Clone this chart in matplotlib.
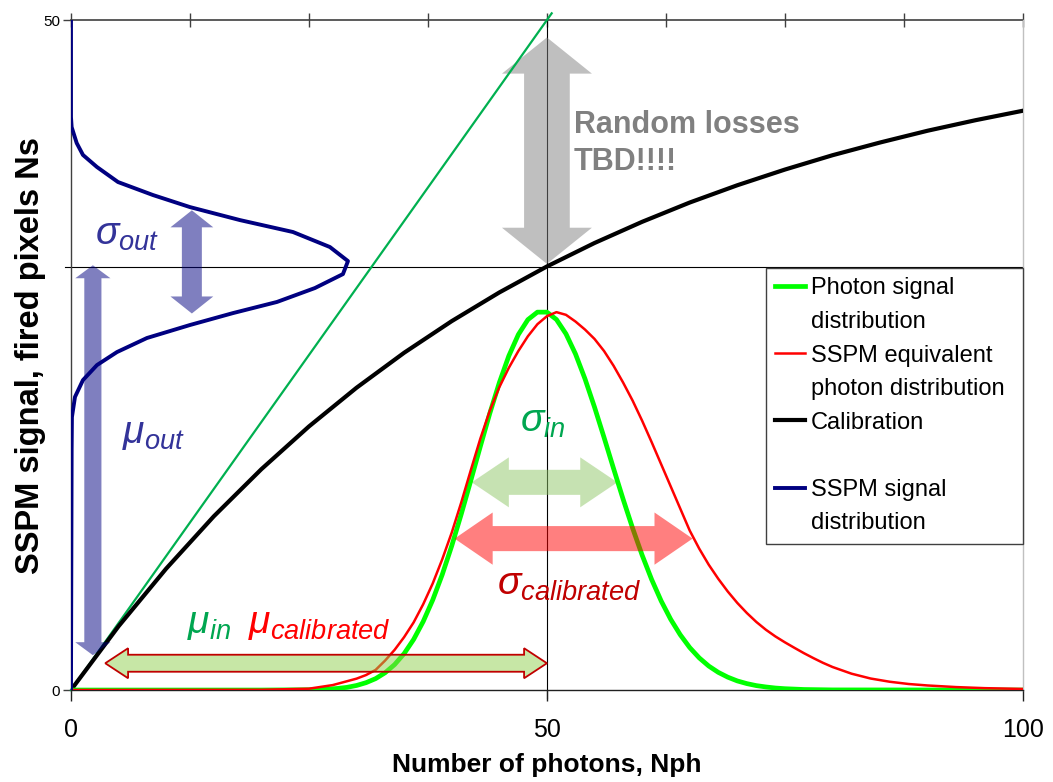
import matplotlib

matplotlib.use("Agg")
import matplotlib.pyplot as plt
import numpy as np
from matplotlib.lines import Line2D
from matplotlib.patches import Polygon

plt.rcParams["font.family"] = ["Liberation Sans", "DejaVu Sans"]
plt.rcParams["mathtext.fontset"] = "custom"
plt.rcParams["mathtext.it"] = "Liberation Sans:italic"
plt.rcParams["mathtext.rm"] = "Liberation Sans"
plt.rcParams["mathtext.bf"] = "Liberation Sans:bold"

# calibration curve Ns(Nph)
calib_nph = [0, 5, 10, 15, 20, 25, 30, 35, 40, 45, 50,
             55, 60, 65, 70, 75, 80, 85, 90, 95, 100]
calib_ns = [0, 4.76, 9.06, 12.96, 16.48, 19.67, 22.56, 25.17, 27.53, 29.67, 31.61,
            33.36, 34.94, 36.38, 37.67, 38.84, 39.91, 40.86, 41.74, 42.52, 43.23]

# ideal (no saturation) response
linear_nph = [0, 50.5]
linear_ns = [0, 50.5]

# photon signal distribution
photon_x = [0, 20, 25, 26, 27, 28, 29, 30, 31, 32, 33, 34, 35, 36, 37, 38, 39,
            40, 41, 42, 43, 44, 45, 46, 47, 48, 49, 50, 51, 52, 53, 54, 55, 56,
            57, 58, 59, 60, 61, 62, 63, 64, 65, 66, 67, 68, 69, 70, 71, 72, 73,
            74, 75, 76, 77, 78, 80, 100]
photon_y = [0, 0.0, 0.02, 0.04, 0.07, 0.12, 0.20, 0.34, 0.55, 0.85, 1.29, 1.90,
            2.72, 3.78, 5.11, 6.72, 8.61, 10.76, 13.13, 15.63, 18.17, 20.65,
            22.94, 24.94, 26.53, 27.64, 28.20, 28.20, 27.65, 26.58, 25.08, 23.22,
            21.11, 18.85, 16.53, 14.25, 12.08, 10.07, 8.25, 6.65, 5.28, 4.13,
            3.17, 2.40, 1.79, 1.32, 0.96, 0.68, 0.48, 0.33, 0.23, 0.15, 0.10,
            0.07, 0.04, 0.03, 0.01, 0]

# SSPM equivalent photon distribution (signal mapped back through calibration)
equiv_x = [0, 20, 25, 27.5, 30, 31, 32, 33, 34, 35, 36, 37, 38, 39, 40, 41, 42,
           43, 44, 45, 46, 47, 48, 49, 50, 51, 52, 53, 54, 55, 56, 57, 58, 59,
           60, 61, 62, 63, 64, 65, 66, 67, 68, 69, 70, 71, 72, 73, 74, 75, 76,
           77, 78, 79, 80, 82, 84, 86, 88, 90, 93, 96, 100]
equiv_y = [0, 0.02, 0.1, 0.37, 0.85, 1.12, 1.5, 2.2, 3.0, 3.95, 5.05, 6.4, 7.95,
           9.75, 11.75, 14.0, 16.4, 18.75, 20.85, 22.6, 24.05, 25.3, 26.4, 27.3,
           27.9, 28.2, 28.0, 27.5, 26.9, 26.2, 25.3, 24.2, 22.95, 21.6, 20.1,
           18.5, 16.85, 15.2, 13.55, 11.9, 10.55, 9.35, 8.3, 7.35, 6.5, 5.75,
           5.08, 4.5, 4.0, 3.56, 3.15, 2.75, 2.38, 2.03, 1.72, 1.22, 0.86, 0.62,
           0.45, 0.34, 0.22, 0.14, 0.08]

# SSPM signal distribution, plotted sideways along the Ns axis
signal_ns = [50.0, 42.76, 42.01, 40.82, 39.93, 39.03, 37.91, 36.94, 36.04,
             35.07, 34.18, 33.06, 32.01, 31.04, 30.0, 28.96, 28.13, 27.24,
             26.27, 25.22, 24.25, 23.13, 21.87, 20.37, 17.91, 0]
signal_freq = [0, 0, 0.07, 0.6, 1.26, 2.73, 4.94, 8.61, 12.5, 17.75, 23.32,
               27.2, 29.1, 28.57, 25.63, 21.64, 17.02, 12.5, 7.98, 4.83, 2.73,
               1.26, 0.42, 0.1, 0.07, 0]

mean_nph = 50
mean_ns = 31.6


def double_arrow(ax, start, end, shaft, head_w, head_len, **kw):
    """Axis-aligned two-headed block arrow in data units."""
    (x0, y0), (x1, y1) = start, end
    vertical = x0 == x1
    c = x0 if vertical else y0
    lo, hi = (min(y0, y1), max(y0, y1)) if vertical else (min(x0, x1), max(x0, x1))
    s, h = shaft / 2, head_w / 2
    run = [lo, lo + head_len, lo + head_len, hi - head_len, hi - head_len, hi,
           hi - head_len, hi - head_len, lo + head_len, lo + head_len]
    off = [0, h, s, s, h, 0, -h, -s, -s, -h]
    if vertical:
        pts = [(c + o, r) for r, o in zip(run, off)]
    else:
        pts = [(r, c + o) for r, o in zip(run, off)]
    ax.add_patch(Polygon(pts, closed=True, **kw))


fig = plt.figure(figsize=(10.53, 7.82), dpi=100)
ax = fig.add_axes([0.0674, 0.1176, 0.904, 0.8568])
ax.set_xlim(0, 100)
ax.set_ylim(0, 50)

ax.axvline(mean_nph, ymin=-0.012, ymax=1, color="black", lw=0.8, clip_on=False, zorder=1)
ax.axhline(mean_ns, xmin=-0.0065, xmax=1, color="black", lw=0.8, clip_on=False, zorder=1)

ax.plot(linear_nph, linear_ns, color="#00b050", lw=1.6, clip_on=False, zorder=2)
ax.plot(calib_nph, calib_ns, color="black", lw=3.0, zorder=3)
ax.plot(photon_x, photon_y, color="#00ff00", lw=3.4, zorder=4)
ax.plot(equiv_x, equiv_y, color="#ff0000", lw=1.8, zorder=5)
ax.plot(signal_freq, signal_ns, color="#000080", lw=2.8, zorder=6)

# spread / mean arrows
double_arrow(ax, (12.7, 28.1), (12.7, 35.8), 2.1, 4.5, 1.27,
             facecolor=(0, 0, 0.5, 0.5), edgecolor="none", zorder=7)
double_arrow(ax, (2.3, 2.6), (2.3, 31.7), 1.8, 3.7, 0.97,
             facecolor=(0, 0, 0.5, 0.5), edgecolor="none", zorder=7)
double_arrow(ax, (50, 31.8), (50, 48.7), 4.8, 9.45, 2.7,
             facecolor=(0.5, 0.5, 0.5, 0.5), edgecolor="none", zorder=1.5)
double_arrow(ax, (42.1, 15.5), (57.4, 15.5), 1.87, 3.73, 3.9,
             facecolor=(0.56, 0.78, 0.4, 0.5), edgecolor="none", zorder=3.5)
double_arrow(ax, (40.3, 11.3), (65.3, 11.3), 1.87, 3.9, 4.0,
             facecolor=(1, 0, 0, 0.5), edgecolor="none", zorder=7)
double_arrow(ax, (3.6, 2.0), (50, 2.0), 1.27, 2.24, 2.4,
             facecolor=(0.57, 0.82, 0.31, 0.5), edgecolor="#c00000", lw=1.3, zorder=7)

# annotations
ax.text(52.8, 43.3, "Random losses\nTBD!!!!", color="#808080", fontsize=22,
        fontweight="bold", ha="left", va="top", linespacing=1.3, zorder=8)
ax.text(2.5, 33.2, r"$\sigma_{out}$", color="#333399", fontsize=28, va="baseline", zorder=8)
ax.text(5.4, 18.4, r"$\mu_{out}$", color="#333399", fontsize=28, va="baseline", zorder=8)
ax.text(47.2, 19.25, r"$\sigma_{in}$", color="#00a650", fontsize=28, va="baseline", zorder=8)
ax.text(44.75, 7.1, r"$\sigma_{calibrated}$", color="#c00000", fontsize=28,
        va="baseline", zorder=8)
ax.text(12.2, 4.25, r"$\mu_{in}$", color="#00a650", fontsize=28, va="baseline", zorder=8)
ax.text(18.6, 4.25, r"$\mu_{calibrated}$", color="#ff0000", fontsize=28,
        va="baseline", zorder=8)

# axes styling
ax.set_xticks([0, 50, 100])
ax.set_yticks([0, 50])
ax.tick_params(axis="x", direction="out", length=8, width=1, labelsize=18, pad=12,
               color="#202020")
ax.tick_params(axis="y", direction="out", length=6, width=1, labelsize=11, pad=2,
               color="#404040")
ax.spines["top"].set_visible(False)
ax.spines["right"].set_color("#c0c0c0")
ax.spines["left"].set_color("#404040")
ax.spines["bottom"].set_color("#202020")
for s in ax.spines.values():
    s.set_linewidth(1.0)

top = ax.secondary_xaxis("top")
top.set_xticks(np.arange(0, 101, 12.5))
top.tick_params(direction="inout", length=10, width=1, labeltop=False, color="#404040")
top.spines["top"].set_color("#404040")
top.spines["top"].set_linewidth(1.2)

ax.set_xlabel("Number of photons, Nph", fontsize=19, fontweight="bold", labelpad=8)
ax.set_ylabel("SSPM signal, fired pixels Ns", fontsize=23.5, fontweight="bold", labelpad=-2)

# legend: one row per text line, handle beside the first line of each entry
blank = Line2D([], [], color="none")
handles = [
    Line2D([], [], color="#00ff00", lw=3.4), blank,
    Line2D([], [], color="#ff0000", lw=1.8), blank,
    Line2D([], [], color="black", lw=3.0),
    blank,
    Line2D([], [], color="#000080", lw=2.8), blank,
]
labels = ["Photon signal", "distribution", "SSPM equivalent", "photon distribution",
          "Calibration", " ", "SSPM signal", "distribution"]
leg = ax.legend(handles, labels, loc="upper left",
                bbox_to_anchor=(0.730, 0.219, 0.270, 0.411), mode="expand",
                borderaxespad=0, fontsize=17, handlelength=1.25, handletextpad=0.25,
                labelspacing=0.49, borderpad=0.4, fancybox=False, framealpha=1)
leg.get_frame().set_edgecolor("#404040")
leg.get_frame().set_linewidth(1.0)
leg.set_zorder(9)

fig.savefig("out.png", dpi=100)
plt.close(fig)
